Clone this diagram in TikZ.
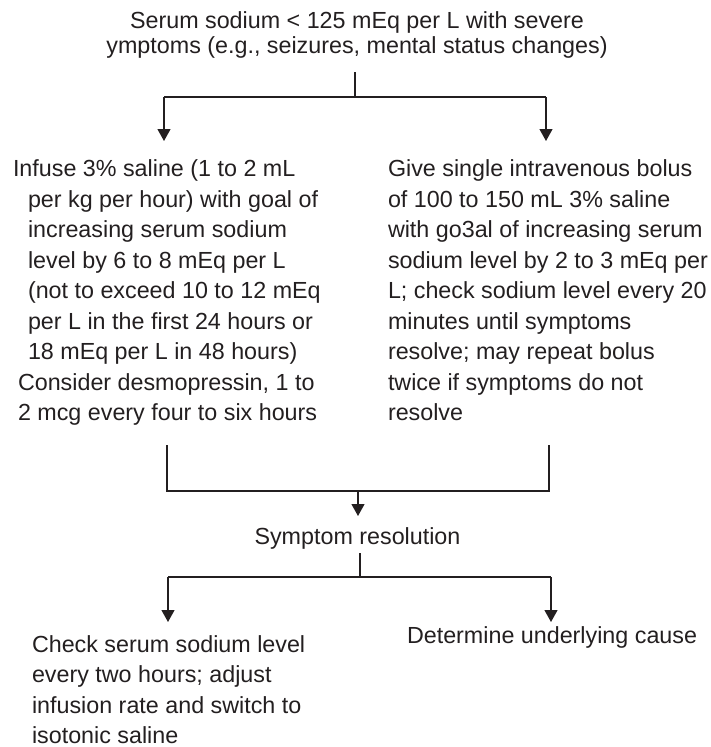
\documentclass[tikz,border=0pt]{standalone}
\usepackage{fontspec}
\setmainfont{Liberation Sans}
\usetikzlibrary{arrows.meta}
\definecolor{ink}{HTML}{231F20}
\begin{document}
\begin{tikzpicture}[x=1pt,y=1pt,
  txt/.style={inner sep=0pt,outer sep=0pt,text=ink,font=\fontsize{23.3}{30.5}\selectfont,align=left,anchor=base west},
  ctxt/.style={inner sep=0pt,outer sep=0pt,text=ink,font=\fontsize{23.3}{25.5}\selectfont,align=center,anchor=base},
  conn/.style={draw=ink,line width=1.2pt},
  arr/.style={conn,-{Triangle[width=13pt,length=12pt]}}]
\useasboundingbox (0,0) rectangle (711,-747);
% texts (base anchor = baseline of the last line)
\node[ctxt] (top) at (357,-53.5) {Serum sodium < 125 mEq per L with severe\\ymptoms (e.g., seizures, mental status changes)};
\node[txt] (left) at (13,-420.7) {Infuse 3\% saline (1 to 2 mL\\
\hspace*{15pt}per kg per hour) with goal of\\
\hspace*{15pt}increasing serum sodium\\
\hspace*{15pt}level by 6 to 8 mEq per L\\
\hspace*{15pt}(not to exceed 10 to 12 mEq\\
\hspace*{15pt}per L in the first 24 hours or\\
\hspace*{15pt}18 mEq per L in 48 hours)\\
\hspace*{5pt}Consider desmopressin, 1 to\\
\hspace*{5pt}2 mcg every four to six hours};
\node[txt] (right) at (388,-420.7) {Give single intravenous bolus\\
of 100 to 150 mL 3\% saline\\
with go3al of increasing serum\\
sodium level by 2 to 3 mEq per\\
L; check sodium level every 20\\
minutes until symptoms\\
resolve; may repeat bolus\\
twice if symptoms do not\\
resolve};
\node[ctxt] (mid) at (357.5,-544) {Symptom resolution};
\node[txt] (bl) at (32,-743.5) {Check serum sodium level\\
every two hours; adjust\\
infusion rate and switch to\\
isotonic saline};
\node[txt] (br) at (407,-643) {Determine underlying cause};
% connector coordinates
\coordinate (t0) at (355,-72);
\coordinate (t1) at (355,-97);
\coordinate (tL) at (164,-97);
\coordinate (tR) at (546,-97);
\coordinate (aL) at (164,-141);
\coordinate (aR) at (546,-141);
\coordinate (mL0) at (167,-445);
\coordinate (mL1) at (167,-491);
\coordinate (mR0) at (549,-445);
\coordinate (mR1) at (549,-491);
\coordinate (m0) at (358,-491);
\coordinate (m1) at (358,-516);
\coordinate (b0) at (360,-553);
\coordinate (b1) at (360,-577);
\coordinate (bL) at (168,-577);
\coordinate (bR) at (551,-577);
\coordinate (bLa) at (168,-622);
\coordinate (bRa) at (551,-622);
% connectors
\draw[conn] (t0) -- (t1);
\draw[conn] (tL) -- (tR);
\draw[arr] (tL) -- (aL);
\draw[arr] (tR) -- (aR);
\draw[conn] (mL0) -- (mL1) -- (mR1) -- (mR0);
\draw[arr] (m0) -- (m1);
\draw[conn] (b0) -- (b1);
\draw[conn] (bL) -- (bR);
\draw[arr] (bL) -- (bLa);
\draw[arr] (bR) -- (bRa);
\end{tikzpicture}
\end{document}
